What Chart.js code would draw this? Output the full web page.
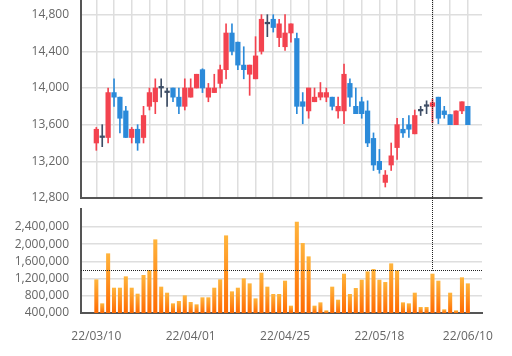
<!DOCTYPE html>
<html><head><meta charset="utf-8">
<script src="https://cdn.jsdelivr.net/npm/chart.js@4.4.0/dist/chart.umd.min.js"></script>
<style>
html,body{margin:0;padding:0;background:#fff;}
#wrap{position:relative;width:512px;height:356px;overflow:hidden;background:#fff;}
canvas{position:absolute;left:0;}
#price{top:0;}
#vol{top:200px;}
</style></head><body>
<div id="wrap"><canvas id="price" width="512" height="212"></canvas><canvas id="vol" width="512" height="156"></canvas></div>
<script>
// ---- data ----
const dates = ['22/03/10','22/03/11','22/03/14','22/03/15','22/03/16','22/03/17','22/03/18','22/03/21','22/03/22','22/03/23','22/03/24','22/03/25','22/03/28','22/03/29','22/03/30','22/03/31',
'22/04/01','22/04/04','22/04/05','22/04/06','22/04/07','22/04/08','22/04/11','22/04/12','22/04/13','22/04/14','22/04/15','22/04/18','22/04/19','22/04/20','22/04/21','22/04/22',
'22/04/25','22/04/26','22/04/27','22/04/28','22/04/29','22/05/02','22/05/03','22/05/04','22/05/06','22/05/09','22/05/10','22/05/11','22/05/12','22/05/13','22/05/16','22/05/17',
'22/05/18','22/05/19','22/05/20','22/05/23','22/05/24','22/05/25','22/05/26','22/05/27','22/05/30','22/05/31','22/06/02','22/06/03','22/06/07','22/06/08','22/06/09','22/06/10'];
const openP  = [13400,13460,13460,13950,13900,13750,13460,13550,13460,13800,13850,14000,13950,14000,13900,13800,
13900,14000,14200,13900,13950,14050,14200,14600,14500,14250,14150,14100,14400,14700,14750,14550,
14450,14600,14540,13850,13750,13850,13900,13900,13900,13750,13750,14050,13800,13850,13750,13450,
13200,12970,13160,13350,13550,13600,13500,13750,13800,13800,13900,13750,13710,13600,13750,13800];
const highP  = [13570,13600,14000,14100,13900,13800,13570,13600,13800,14000,14100,14100,14000,14000,14000,14100,
14100,14150,14210,14050,14150,14250,14700,14700,14500,14450,14250,14560,14800,14800,14800,14750,
14800,14700,14600,13950,14000,14000,14060,14000,13900,13900,14260,14100,14000,13900,13860,13510,
13330,13100,13400,13670,13670,13700,13760,13800,13860,13880,13900,13800,13710,13750,13850,13800];
const lowP   = [13320,13360,13400,13800,13510,13460,13400,13320,13400,13760,13720,13900,13800,13850,13720,13760,
13900,14000,13950,13850,13950,14000,14100,14360,14200,14100,13920,14100,14370,14560,14610,14450,
14410,14500,13720,13610,13670,13850,13870,13850,13760,13670,13610,13800,13720,13670,13360,13100,
13070,12920,13100,13220,13460,13460,13500,13700,13720,13620,13610,13670,13600,13600,13720,13600];
const closeP = [13550,13460,13950,13900,13670,13460,13550,13400,13700,13950,14000,14000,13950,13900,13800,14000,
14000,14150,14000,14000,14000,14200,14600,14400,14250,14200,14250,14350,14750,14700,14660,14700,
14600,14700,13800,13800,14000,13900,13950,13950,13800,13800,14150,13900,13720,13720,13400,13160,
13110,13050,13260,13600,13510,13550,13700,13750,13800,13840,13670,13710,13600,13750,13850,13600];
const volume = [1175000,617000,1780000,981000,981000,1245000,981000,842000,1276000,1392000,
2105000,1005000,865000,617000,671000,803000,648000,594000,757000,757000,
981000,1175000,2198000,896000,981000,1198000,1082000,733000,1330000,1005000,
834000,834000,1144000,563000,2516000,2020000,1710000,563000,640000,454000,
1005000,702000,1307000,834000,974000,1167000,1361000,1415000,1167000,1113000,
1547000,1384000,640000,617000,865000,532000,532000,1307000,1144000,478000,
865000,454000,1222000,1082000];
const priceTicks = [12800,13200,13600,14000,14400,14800];
const volumeTicks = [400000,800000,1200000,1600000,2000000,2400000];
const dateTickLabels = ['22/03/10','22/04/01','22/04/25','22/05/18','22/06/10'];
const crossDate = '22/05/31';
const crossVolume = 1400000;

// ---- styles ----
const UP = '#f3434f', DOWN = '#2b8ad9', FLAT = '#3e4e66';
const FONT = {family: '"Open Sans", "Noto Sans", sans-serif', size: 12};
const TXT = '#666';
const GRID = '#dedede';
const AXIS = '#555';
const xMin = -2.6, xMax = 65.4;

const idx = dates.map((_, i) => i);
const gridIdx = idx.filter(i => i % 3 === 0);
const labelIdx = dateTickLabels.map(d => dates.indexOf(d));
const crossIdx = dates.indexOf(crossDate);
const colorOf = i => closeP[i] > openP[i] ? UP : (closeP[i] < openP[i] ? DOWN : FLAT);
const noPad = s => { s.paddingTop = 0; s.paddingBottom = 0; s.paddingLeft = 0; s.paddingRight = 0; };

function dotted(ctx, x1, y1, x2, y2) {
  ctx.save();
  ctx.strokeStyle = '#222';
  ctx.lineWidth = 1;
  ctx.setLineDash([1, 1]);
  ctx.beginPath(); ctx.moveTo(x1, y1); ctx.lineTo(x2, y2); ctx.stroke();
  ctx.restore();
}

new Chart(document.getElementById('price'), {
  type: 'bar',
  data: { datasets: [
    { data: idx.map(i => ({x: i, y: [openP[i], closeP[i]]})), backgroundColor: c => colorOf(c.dataIndex),
      barThickness: 4.6, minBarLength: 1.6, grouped: false, borderWidth: 0 },
    { data: idx.map(i => ({x: i, y: [lowP[i], highP[i]]})), backgroundColor: c => colorOf(c.dataIndex),
      barThickness: 1, grouped: false, borderWidth: 0 }
  ]},
  options: {
    responsive: false, animation: false, devicePixelRatio: 1,
    layout: {padding: {left: 0, right: 30, top: 0, bottom: 0}},
    plugins: {legend: {display: false}, tooltip: {enabled: false}},
    scales: {
      x: { type: 'linear', min: xMin, max: xMax, offset: false, bounds: 'data',
        afterBuildTicks: s => { s.ticks = gridIdx.map(v => ({value: v})); },
        ticks: {display: false},
        grid: {color: GRID, lineWidth: 1.5, drawTicks: false, offset: false},
        border: {color: AXIS, width: 2},
        afterFit: s => { s.height = 14; noPad(s); } },
      y: { type: 'linear', min: 12800, max: 14960,
        afterBuildTicks: s => { s.ticks = priceTicks.map(v => ({value: v})); },
        ticks: {color: TXT, font: FONT, padding: 12, callback: v => v.toLocaleString('en-US')},
        grid: {color: GRID, lineWidth: 1.5, drawTicks: false},
        border: {color: AXIS, width: 2},
        afterFit: s => { s.width = 81; noPad(s); } }
    }
  },
  plugins: [{ id: 'crossP', afterDatasetsDraw(chart) {
    const x = Math.round(chart.scales.x.getPixelForValue(crossIdx)) + 0.5;
    dotted(chart.ctx, x, 0, x, chart.chartArea.bottom + 2);
  }}]
});

new Chart(document.getElementById('vol'), {
  type: 'bar',
  data: { datasets: [
    { data: idx.map(i => ({x: i, y: volume[i]})),
      backgroundColor: c => {
        const ch = c.chart, ys = ch.scales.y;
        if (!ys || !ch.chartArea || c.raw === undefined) return '#ff8c1a';
        const top = ys.getPixelForValue(c.raw.y), bot = ys.getPixelForValue(ys.min);
        if (!isFinite(top) || !isFinite(bot) || bot - top < 1) return '#ff7a10';
        const g = ch.ctx.createLinearGradient(0, top, 0, bot);
        g.addColorStop(0, '#ffb43c');
        g.addColorStop(1, '#ff6a00');
        return g;
      },
      barThickness: 3.4, borderWidth: 0 }
  ]},
  options: {
    responsive: false, animation: false, devicePixelRatio: 1,
    layout: {padding: {left: 0, right: 30, top: 9, bottom: 0}},
    plugins: {legend: {display: false}, tooltip: {enabled: false}},
    scales: {
      x: { type: 'linear', min: xMin, max: xMax, offset: false, bounds: 'data',
        afterBuildTicks: s => { s.ticks = labelIdx.map(v => ({value: v})); },
        ticks: {color: TXT, font: FONT, padding: 16, maxRotation: 0, autoSkip: false, callback: v => dates[v]},
        grid: {display: false, drawTicks: false, offset: false},
        border: {color: AXIS, width: 2},
        afterFit: s => { s.height = 43; noPad(s); } },
      y: { type: 'linear', min: 400000, max: 2820000,
        afterBuildTicks: s => { s.ticks = volumeTicks.map(v => ({value: v})); },
        ticks: {color: TXT, font: FONT, padding: 12, callback: v => v.toLocaleString('en-US')},
        grid: {color: GRID, lineWidth: 1.5, drawTicks: false},
        border: {color: AXIS, width: 2},
        afterFit: s => { s.width = 81; noPad(s); } }
    }
  },
  plugins: [{ id: 'crossV', afterDatasetsDraw(chart) {
    const a = chart.chartArea;
    const x = Math.round(chart.scales.x.getPixelForValue(crossIdx)) + 0.5;
    const y = Math.round(chart.scales.y.getPixelForValue(crossVolume)) + 0.5;
    dotted(chart.ctx, x, 0, x, y);
    dotted(chart.ctx, a.left, y, a.right, y);
  }}]
});
</script>
</body></html>
